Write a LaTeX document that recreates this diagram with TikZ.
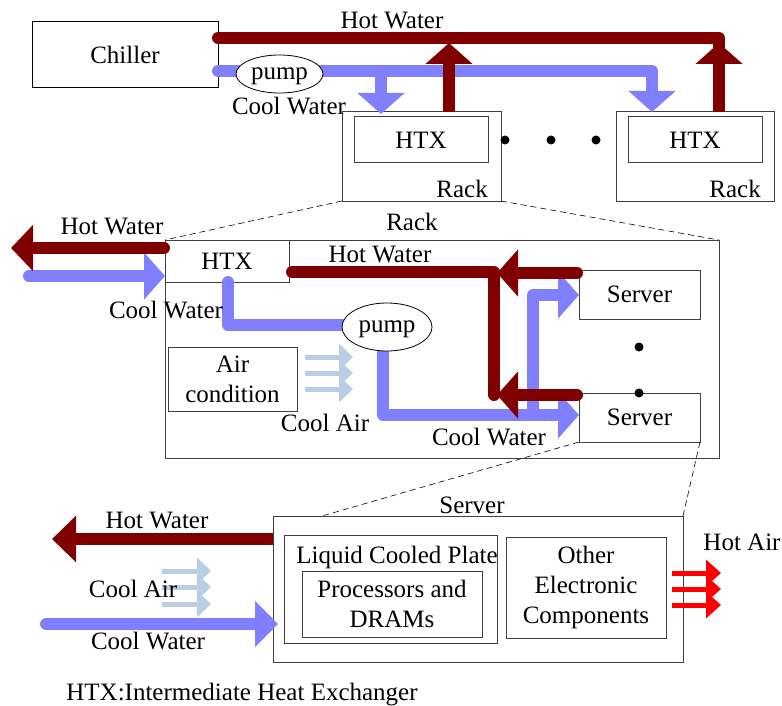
\documentclass[tikz,border=0pt]{standalone}
\usepackage{fontspec}
\setmainfont{Liberation Serif}
\usetikzlibrary{arrows.meta,calc,shapes.geometric}
\definecolor{hotc}{HTML}{800000}
\definecolor{coolc}{HTML}{8080FF}
\definecolor{airc}{HTML}{B9CDE5}
\definecolor{hotair}{HTML}{FF0000}
\begin{document}
\begin{tikzpicture}[x=1pt,y=-1pt,
  every node/.style={font=\fontsize{25}{30}\selectfont},
  box/.style={draw=black!75, line width=1pt, inner sep=0pt, outer sep=0pt},
  blackbox/.style={draw=black, line width=1pt, inner sep=0pt, outer sep=0pt},
  pumpnode/.style={draw=black, ellipse, line width=0.8pt, fill=white, inner sep=0pt, outer sep=0pt},
  lbl/.style={inner sep=0pt, text height=16pt, text depth=0pt},
  hotpipe/.style={draw=hotc, line width=12pt},
  coolpipe/.style={draw=coolc, line width=12pt},
  bigtip/.style={-{Triangle[width=46pt,length=21pt]}},
  airarrow/.style={draw=airc, line width=5pt, -{Triangle[width=26pt,length=14pt]}},
  hotairarrow/.style={draw=hotair, line width=5pt, -{Triangle[width=26pt,length=15pt]}},
  zoomline/.style={dash pattern=on 6pt off 4pt, line width=0.6pt},
]
\useasboundingbox (0,0) rectangle (782,706);

% ---------- top section ----------
\node[blackbox, minimum width=186pt, minimum height=66pt] (chiller) at (125,55) {Chiller};
\node[box, minimum width=159pt, minimum height=89pt] (rack1) at (421.5,156.5) {};
\node[box, minimum width=134pt, minimum height=46pt] (htx1) at (421,140) {HTX};
\node[anchor=base east, inner sep=0pt] (rack1lbl) at ($(rack1.south east)+(-13,-4)$) {Rack};
\node[box, minimum width=158pt, minimum height=89pt] (rack2) at (695,156.5) {};
\node[box, minimum width=134pt, minimum height=46pt] (htx2) at (695,140) {HTX};
\node[anchor=base east, inner sep=0pt] (rack2lbl) at ($(rack2.south east)+(-13,-4)$) {Rack};

\foreach \i/\x in {1/505,2/551,3/596}
  \fill (\x,140) circle (4.5pt) coordinate (topdot\i);

% cool water (top)
\coordinate (cw1) at ($(chiller.east)+(0,16)$);
\draw[coolpipe, line cap=round, line join=round, bigtip] (cw1) -- (652,71) -- ($(rack2.north)+(-43,0)$);
\draw[coolpipe, bigtip] (381,71) -- ($(rack1.north)+(-40.5,2)$);
\node[pumpnode, minimum width=87pt, minimum height=38pt, text depth=0pt] (pump1) at (279.5,74) {pump};

% hot water (top)
\coordinate (hw1) at ($(chiller.east)+(0,-17)$);
\draw[hotpipe, line cap=round, line join=round] (hw1) -- (719,38) -- (719,55);
\draw[hotpipe, bigtip] ($(rack1.north)+(27.5,0)$) -- (449,43);
\draw[hotpipe, bigtip] ($(rack2.north)+(24,0)$) -- (719,43);

\node[lbl] (hwtop) at (392,21) {Hot Water};
\node[lbl] (cwtop) at (289,107) {Cool Water};

% ---------- middle section ----------
\node[box, minimum width=554pt, minimum height=218pt] (rackbig) at (442,349) {};
\node[lbl] (racklbl) at (412,222) {Rack};
\draw[zoomline] (rack1.south west) -- (rackbig.north west);
\draw[zoomline] (rack1.south east) -- (rackbig.north east);

\node[box, minimum width=124pt, minimum height=42pt] (htx3) at (227,261) {HTX};
\node[box, minimum width=129pt, minimum height=64pt, align=center] (aircon) at (232.5,379) {Air\\condition};
\node[box, minimum width=121pt, minimum height=49pt] (srv1) at (639.5,294.5) {Server};
\node[box, minimum width=121pt, minimum height=49pt] (srv2) at (639.5,417.5) {Server};
\fill (639,347) circle (4.5pt) coordinate (middot1);
\fill (639,393) circle (4.5pt) coordinate (middot2);

% cool water in / hot water out
\draw[coolpipe, line cap=round, bigtip] (29,276) -- (htx3.west |- 0,276);
\draw[hotpipe, line cap=round, -{Triangle[width=45pt,length=22pt]}] ($(htx3.north west)+(-1,8)$) -- (11,248);

% cool water to servers
\draw[coolpipe, line cap=round, line join=round] ($(htx3.south)+(1,0)$) -- (228,325) -- (345,325);
\draw[coolpipe, line join=round, bigtip] (383,345) -- (383,415) -- (srv2.west |- 0,415);
\draw[coolpipe, line join=round, bigtip] (533,415) -- (533,295) -- (srv1.west |- 0,295);
\node[pumpnode, minimum width=90pt, minimum height=48pt, text depth=0pt] (pump2) at (387,327) {pump};

% hot water from servers
\draw[hotpipe, line cap=round, line join=round] ($(htx3.east)+(3,11)$) -- (494,272) -- (494,395);
\draw[hotpipe, line cap=round, bigtip] ($(srv1.north west)+(-2,3)$) -- (497,273);
\draw[hotpipe, line cap=round, bigtip] ($(srv2.north west)+(-2,2)$) -- (497,395);

% cool air (middle)
\foreach \y in {357,373,389}
  \draw[airarrow] (305,\y) -- (353,\y);

\node[lbl] (hwm1) at (112,226) {Hot Water};
\node[lbl] (cwm1) at (166,310) {Cool Water};
\node[lbl] (hwm2) at (380,254) {Hot Water};
\node[lbl] (cam) at (325,423) {Cool Air};
\node[lbl] (cwm2) at (489,437) {Cool Water};

% ---------- bottom section ----------
\node[box, minimum width=410pt, minimum height=146pt] (srv3) at (478,589) {};
\node[lbl] (srvlbl) at (472,505) {Server};
\draw[zoomline] (srv2.south west) -- ($(srv3.north west)+(49,0)$);
\draw[zoomline] (srv2.south east) -- (srv3.north east);

\node[box, minimum width=213pt, minimum height=108pt] (lcp) at (390.5,589) {};
\node[lbl] (lcplbl) at (397,555) {Liquid Cooled Plate};
\node[box, minimum width=180pt, minimum height=66pt, align=center] (proc) at (392,604) {Processors and\\DRAMs};
\node[box, minimum width=160pt, minimum height=101pt, align=center] (other) at (586,587.5) {Other\\Electronic\\Components};

\draw[hotpipe, -{Triangle[width=45pt,length=24pt]}] (srv3.west |- 0,539) -- (52,539);
\draw[coolpipe, line cap=round, -{Triangle[width=45pt,length=23pt]}] (46,624) -- ($(srv3.west |- 0,624)+(5,0)$);

\foreach \y in {571,587,604}
  \draw[airarrow] (162,\y) -- (211,\y);
\foreach \y in {573,589,605}
  \draw[hotairarrow] (672,\y) -- (721,\y);

\node[lbl] (hwb) at (157,520) {Hot Water};
\node[lbl] (cab) at (133,589) {Cool Air};
\node[lbl] (cwb) at (148,641) {Cool Water};
\node[lbl] (hab) at (742,542) {Hot Air};

\node[lbl] (footer) at (242,692) {HTX:Intermediate Heat Exchanger};
\end{tikzpicture}
\end{document}
